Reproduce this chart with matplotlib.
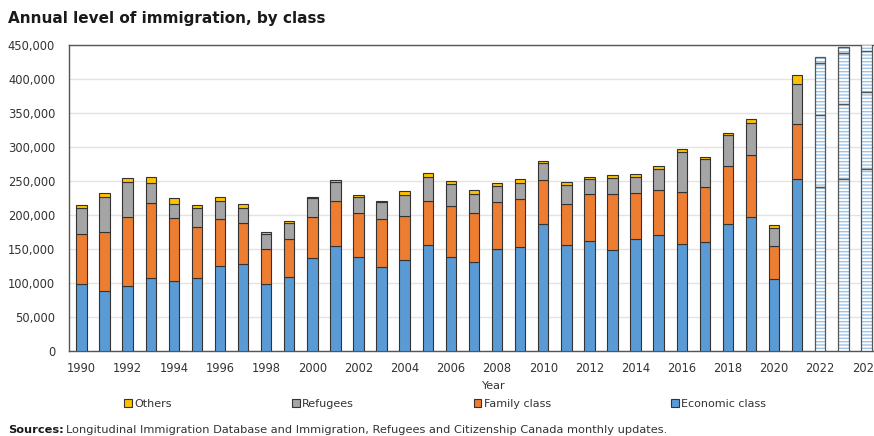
import matplotlib
matplotlib.use("Agg")
import matplotlib.pyplot as plt
from matplotlib.patches import Patch

years = list(range(1990, 2022))
economic = [98000, 88000, 95600, 107000, 103000, 107000, 124500, 128000, 98000, 109000,
            137000, 155000, 138700, 123000, 133800, 156000, 138700, 130400, 149500, 153400,
            187200, 155400, 161800, 148500, 164700, 170600, 157400, 159900, 186300, 196600,
            106400, 252500]
family = [74000, 86500, 101000, 110000, 92000, 76000, 69500, 60000, 51500, 56000,
          59600, 65600, 63800, 70700, 64200, 64700, 75000, 72000, 70000, 70600,
          64300, 60800, 69000, 82000, 68000, 66200, 76900, 81800, 85700, 91600,
          48500, 81300]
refugees = [39000, 52500, 51500, 30000, 21000, 28000, 26000, 23000, 22500, 23700,
            28000, 27400, 24000, 25300, 32000, 35800, 32000, 28400, 23000, 23500,
            24500, 28400, 21600, 24500, 23600, 30400, 57900, 40200, 45200, 47500,
            26500, 58800]
others = [4000, 5000, 6000, 9500, 9000, 3000, 6500, 5500, 3000, 2300,
          2500, 3000, 3000, 2000, 5000, 5000, 5000, 6000, 4500, 5000,
          3400, 3400, 4000, 3500, 4000, 5300, 4400, 3800, 3800, 5000,
          3400, 13300]

# immigration levels plan (projected)
plan_years = [2022, 2023, 2024]
plan_economic = [241850, 253000, 267750]
plan_family = [105000, 109500, 113000]
plan_refugees = [76545, 76305, 61000]
plan_others = [8250, 8250, 9250]

labels = ["Others", "Refugees", "Family class", "Economic class"]
colors = ["#FFC000", "#A5A5A5", "#ED7D31", "#5B9BD5"]

plt.rcParams['font.family'] = ['DejaVu Sans']

fig = plt.figure(figsize=(8.74, 4.36), dpi=100)
ax = fig.add_axes([69 / 874, 85 / 436, 1.05 - 69 / 874, 306 / 436])

w = 0.45
edge = "#333333"
bottom = [0] * len(years)
for vals, c in zip([economic, family, refugees, others], colors[::-1]):
    ax.bar(years, vals, w, bottom=bottom, color=c, edgecolor=edge, linewidth=0.8, zorder=3)
    bottom = [b + v for b, v in zip(bottom, vals)]

pbottom = [0] * len(plan_years)
for vals in [plan_economic, plan_family, plan_refugees, plan_others]:
    ax.bar(plan_years, vals, w, bottom=pbottom, color="white", edgecolor="#9DC3E6",
           hatch="-----", linewidth=0, zorder=3)
    ax.bar(plan_years, vals, w, bottom=pbottom, fill=False, edgecolor="#555555",
           linewidth=0.9, zorder=4)
    pbottom = [b + v for b, v in zip(pbottom, vals)]

ax.set_ylim(0, 450000)
ax.set_xlim(1989.46, 2026.22)
ax.set_yticks(range(0, 450001, 50000))
ax.set_yticklabels([f"{v:,}" for v in range(0, 450001, 50000)])
ax.set_xticks(range(1990, 2025, 2))
ax.tick_params(length=0, labelsize=8.3, labelcolor="#333333")
ax.tick_params(axis="y", pad=10)
ax.tick_params(axis="x", pad=8)
ax.grid(axis="y", color="#e3e3e3", linewidth=1, zorder=0)
for s in ax.spines.values():
    s.set_color("#555555")
    s.set_linewidth(1)
ax.spines["right"].set_visible(False)
ax.set_xlabel("Year", fontsize=8, color="#333333", labelpad=4)

handles = [Patch(facecolor=c, edgecolor=edge, linewidth=0.8) for c in colors]
fig.legend(handles, labels, loc="center", bbox_to_anchor=(0.5 + 8 / 874, 1 - 404 / 436), ncol=4,
           frameon=False, fontsize=8, handlelength=0.7, handleheight=0.7,
           handletextpad=0.2, columnspacing=10.8, labelcolor="#333333")

fig.text(8 / 874, 1 - 18 / 436, "Annual level of immigration, by class",
         fontsize=11, fontweight="bold", color="#1a1a1a", va="center")
fig.text(8 / 874, 1 - 430 / 436, "Sources:", fontsize=8.2, fontweight="bold",
         color="#1a1a1a", va="center")
fig.text(66 / 874, 1 - 430 / 436,
         "Longitudinal Immigration Database and Immigration, Refugees and Citizenship Canada monthly updates.",
         fontsize=8.2, color="#333333", va="center")

fig.savefig("out.png", dpi=100)
